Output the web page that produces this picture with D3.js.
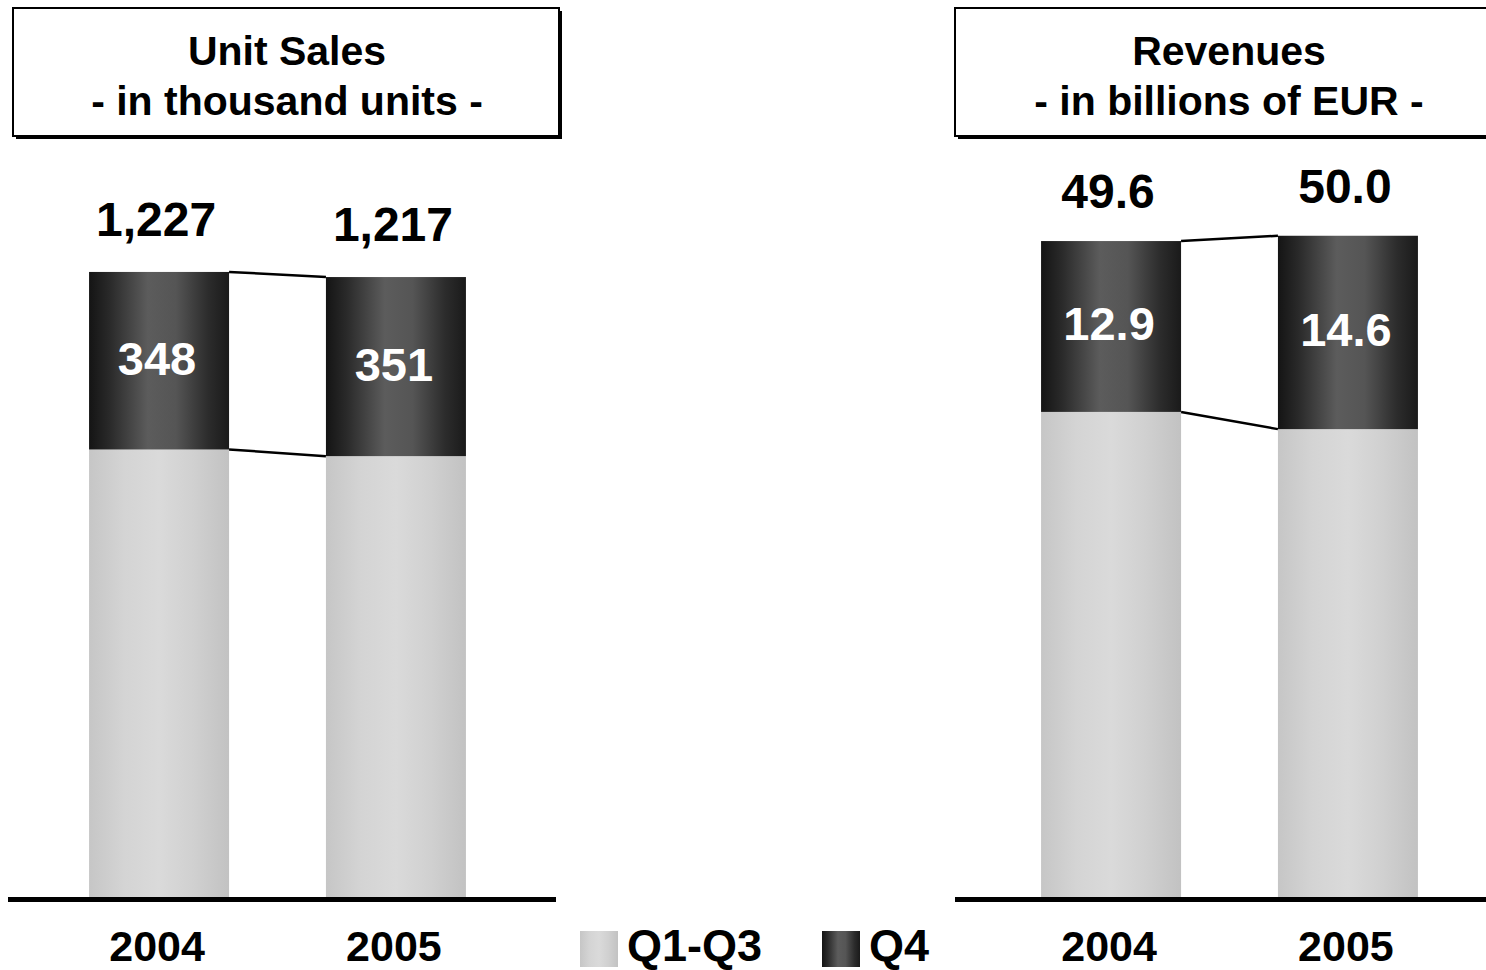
<!DOCTYPE html>
<html>
<head>
<meta charset="utf-8">
<script src="https://cdn.jsdelivr.net/npm/d3@7"></script>
<style>
  html, body { margin: 0; padding: 0; background: #fff; }
  svg { display: block; font-family: "Liberation Sans", Arial, sans-serif; font-weight: bold; }
</style>
</head>
<body>
<svg id="chart" width="1486" height="970"></svg>
<script>
// ---- data ----
const years = ["2004", "2005"];
const seriesNames = ["Q1-Q3", "Q4"];

const unitTitle = ["Unit Sales", "- in thousand units -"];
const unitQ1Q3 = [879, 866];
const unitQ4 = [348, 351];
const unitTotal = [1227, 1217];
const unitTotalLabels = ["1,227", "1,217"];
const unitQ4Labels = ["348", "351"];

const revTitle = ["Revenues", "- in billions of EUR -"];
const revQ1Q3 = [36.7, 35.4];
const revQ4 = [12.9, 14.6];
const revTotal = [49.6, 50.0];
const revTotalLabels = ["49.6", "50.0"];
const revQ4Labels = ["12.9", "14.6"];

// ---- drawing ----
const svg = d3.select("#chart");
const defs = svg.append("defs");

function addGrad(id, stops) {
  const g = defs.append("linearGradient").attr("id", id)
    .attr("x1", "0%").attr("x2", "100%").attr("y1", "0%").attr("y2", "0%");
  stops.forEach(s => g.append("stop").attr("offset", s[0]).attr("stop-color", s[1]));
}
addGrad("gDark", [["0%", "#141414"], ["15%", "#2a2a2a"], ["42%", "#5c5c5c"], ["62%", "#555555"], ["85%", "#2c2c2c"], ["100%", "#1a1a1a"]]);
addGrad("gLight", [["0%", "#c6c6c6"], ["25%", "#d4d4d4"], ["50%", "#dadada"], ["75%", "#d0d0d0"], ["100%", "#c2c2c2"]]);

const baseY = 898;

function panel(opt) {
  const g = svg.append("g");
  // title box with shadow
  g.append("rect").attr("x", opt.boxX + 3).attr("y", 11).attr("width", 546).attr("height", 128).attr("fill", "#000");
  g.append("rect").attr("x", opt.boxX).attr("y", 8).attr("width", 546).attr("height", 128)
    .attr("fill", "#fff").attr("stroke", "#000").attr("stroke-width", 2);
  const cx = opt.boxX + 274;
  g.append("text").attr("x", cx).attr("y", 65).attr("text-anchor", "middle")
    .attr("font-size", 41).attr("textLength", null).text(opt.title[0]);
  g.append("text").attr("x", cx).attr("y", 115).attr("text-anchor", "middle")
    .attr("font-size", 41).text(opt.title[1]);

  const x = d3.scaleBand().domain(years)
    .range([opt.x0, opt.x0 + 474]).paddingInner(0.409).paddingOuter(0.205);
  const y = d3.scaleLinear().domain([0, opt.yMax]).range([baseY, 0]);
  const bw = x.bandwidth();

  // connectors
  const a = years[0], b = years[1];
  g.append("line").attr("x1", x(a) + bw).attr("y1", y(opt.total[0]))
    .attr("x2", x(b)).attr("y2", y(opt.total[1])).attr("stroke", "#000").attr("stroke-width", 2.5);
  g.append("line").attr("x1", x(a) + bw).attr("y1", y(opt.q13[0]))
    .attr("x2", x(b)).attr("y2", y(opt.q13[1])).attr("stroke", "#000").attr("stroke-width", 2.5);

  years.forEach((yr, i) => {
    g.append("rect").attr("x", x(yr)).attr("width", bw)
      .attr("y", y(opt.q13[i])).attr("height", y(0) - y(opt.q13[i])).attr("fill", "url(#gLight)");
    g.append("rect").attr("x", x(yr)).attr("width", bw)
      .attr("y", y(opt.q13[i] + opt.q4[i])).attr("height", y(opt.q13[i]) - y(opt.q13[i] + opt.q4[i]))
      .attr("fill", "url(#gDark)");
    // Q4 label
    const mid = (y(opt.q13[i]) + y(opt.q13[i] + opt.q4[i])) / 2;
    g.append("text").attr("x", x(yr) + bw / 2 - 2).attr("y", mid + 14).attr("text-anchor", "middle")
      .attr("font-size", 47).attr("fill", "#fff").text(opt.q4Labels[i]);
    // total label
    g.append("text").attr("x", x(yr) + bw / 2 - 3).attr("y", y(opt.total[i]) - opt.totOff).attr("text-anchor", "middle")
      .attr("font-size", 48).attr("fill", "#000").text(opt.totLabels[i]);
    // year
    g.append("text").attr("x", x(yr) + bw / 2 - 2).attr("y", 961).attr("text-anchor", "middle")
      .attr("font-size", 43).attr("fill", "#000").text(yr);
  });

  // baseline
  g.append("rect").attr("x", opt.lineX0).attr("y", baseY - 1).attr("width", opt.lineX1 - opt.lineX0)
    .attr("height", 5).attr("fill", "#000");
}

panel({ boxX: 13, title: unitTitle, x0: 40.5, yMax: 1760, total: unitTotal, q13: unitQ1Q3, q4: unitQ4,
  q4Labels: unitQ4Labels, totLabels: unitTotalLabels, totOff: 36, lineX0: 8, lineX1: 556 });
panel({ boxX: 955, title: revTitle, x0: 992.5, yMax: 67.8, total: revTotal, q13: revQ1Q3, q4: revQ4,
  q4Labels: revQ4Labels, totLabels: revTotalLabels, totOff: 33, lineX0: 955, lineX1: 1486 });

// legend
const leg = svg.append("g");
const legX = [580, 822];
const legFill = ["url(#gLight)", "url(#gDark)"];
seriesNames.forEach((s, i) => {
  leg.append("rect").attr("x", legX[i]).attr("y", 931).attr("width", 38).attr("height", 36).attr("fill", legFill[i]);
  leg.append("text").attr("x", legX[i] + 47).attr("y", 961).attr("font-size", 45).attr("fill", "#000").text(s);
});
</script>
</body>
</html>
